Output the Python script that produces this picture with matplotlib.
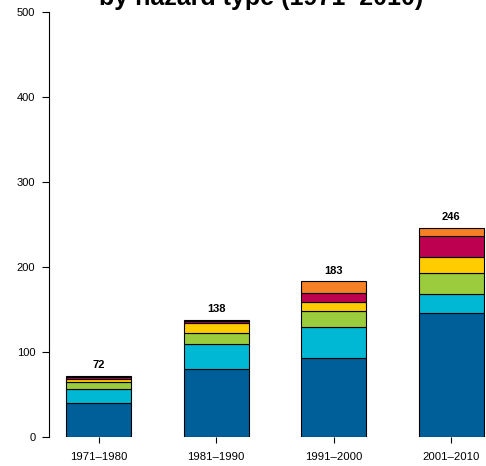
import matplotlib
matplotlib.use("Agg")
import matplotlib.pyplot as plt
import numpy as np

plt.rcParams['font.family'] = ['Liberation Sans', 'DejaVu Sans']

decades = ["1971\u20131980", "1981\u20131990", "1991\u20132000", "2001\u20132010"]
totals = [72, 138, 183, 246]
# stacked segments, bottom to top
seg_blue = [40, 80, 93, 146]
seg_cyan = [17, 29, 36, 22]
seg_green = [8, 13, 19, 25]
seg_yellow = [3, 12, 11, 19]
seg_crimson = [3, 3, 10, 25]
seg_orange = [1, 1, 14, 9]
series = [seg_blue, seg_cyan, seg_green, seg_yellow, seg_crimson, seg_orange]
colors = ["#005E99", "#00B8D4", "#9BCC3D", "#FFCC00", "#BE0050", "#F58025"]
yticks = [0, 100, 200, 300, 400, 500]

W, H = 486, 466
fig = plt.figure(figsize=(W / 100, H / 100), dpi=100)
left_px, right_px = 49.3, 500.7
bottom_px, top_px = 437, 12
ax = fig.add_axes([left_px / W, (H - bottom_px) / H,
                   (right_px - left_px) / W, (bottom_px - top_px) / H])

x = np.arange(len(decades))
width = 1 / 1.8
bottom = np.zeros(len(decades))
for vals, c in zip(series, colors):
    ax.bar(x, vals, width=width, bottom=bottom, color=c,
           edgecolor="black", linewidth=0.8, zorder=2)
    bottom += np.array(vals)

for xi, t in zip(x, totals):
    ax.text(xi, t + 12.5, str(t), ha="center", va="center",
            fontsize=8, fontweight="bold")

ax.set_xlim(-0.42, 3.42)
ax.set_ylim(0, 500)
ax.set_xticks(x)
ax.set_xticklabels(decades, fontsize=8.2)
ax.set_yticks(yticks)
ax.set_yticklabels([str(v) for v in yticks], fontsize=8)
ax.tick_params(axis="y", length=5, width=0.8, pad=5)
ax.tick_params(axis="x", length=4.3, width=0.8, pad=6.8)
for s in ["top", "right", "bottom"]:
    ax.spines[s].set_visible(False)
ax.spines["left"].set_linewidth(0.8)

fig.text(261.5 / W, (H - 5) / H, "by hazard type (1971\u20132010)",
         ha="center", va="baseline", fontsize=18, fontweight="bold")

fig.savefig("out.png", dpi=100)
